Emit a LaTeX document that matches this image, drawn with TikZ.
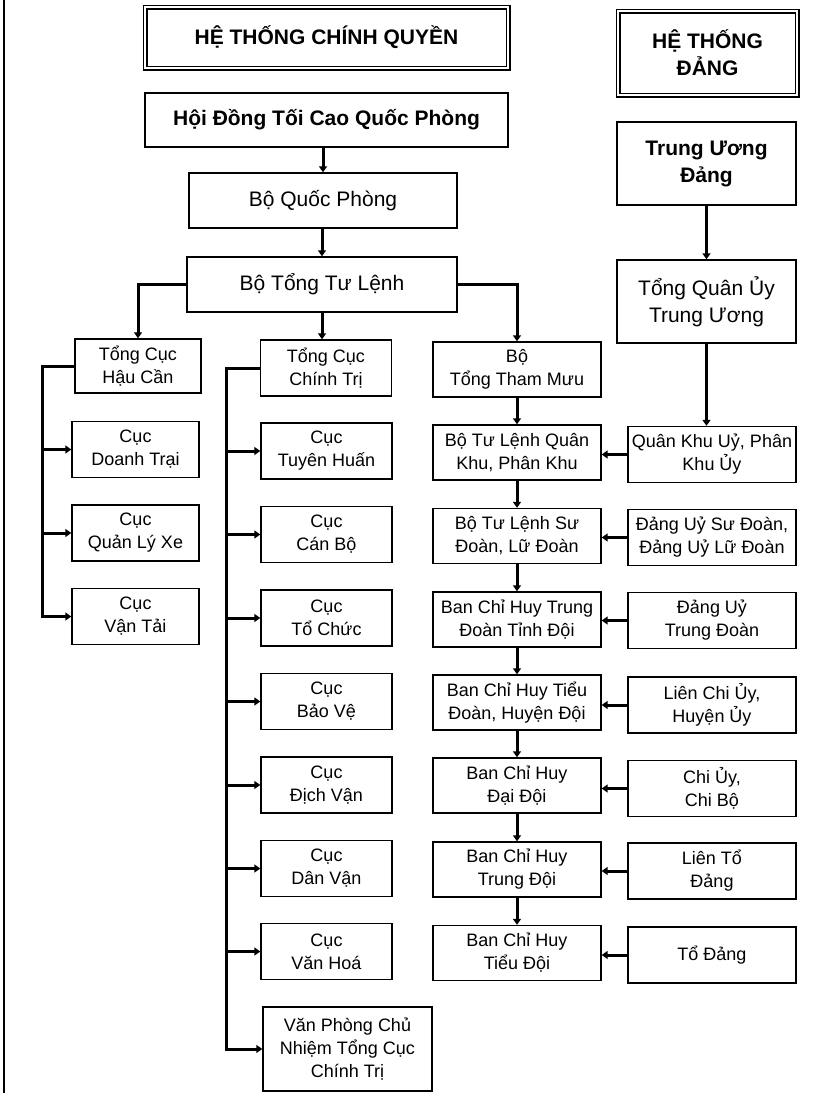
\documentclass[tikz,border=0pt]{standalone}
\usepackage{fontspec}
\setmainfont{Liberation Sans}
\usetikzlibrary{arrows.meta}

\tikzset{
  orgbox/.style={draw, line width=1.4pt, inner sep=0pt, align=center,
    font=\fontsize{18}{23}\selectfont, minimum height=56pt},
  bigbox/.style={orgbox, font=\fontsize{21}{27}\selectfont},
  boldbox/.style={orgbox, font=\bfseries\fontsize{21}{27}\selectfont},
  headbox/.style={draw, double, line width=1.2pt, double distance=2.6pt,
    inner sep=0pt, align=center, font=\bfseries\fontsize{21}{27}\selectfont},
  leftcol/.style={orgbox, minimum width=127pt},
  midcol/.style={orgbox, minimum width=131pt},
  cmdcol/.style={orgbox, minimum width=168pt, minimum height=55pt},
  partycol/.style={orgbox, minimum width=168pt},
  link/.style={line width=3pt},
  arr/.style={link, -{Triangle[length=6pt,width=8pt]}},
}

\begin{document}
\begin{tikzpicture}[x=1pt,y=-1pt]
      \useasboundingbox (0,0) rectangle (834,1093);
      \draw[line width=1.3pt] (4,0) -- (4,1093);
      % headings
      \node[headbox, minimum width=363pt, minimum height=61pt] (hcq) at (326.5,37.5) {HỆ THỐNG CHÍNH QUYỀN};
      \node[headbox, minimum width=179pt, minimum height=84pt] (hdg) at (707.5,53) {HỆ THỐNG\\ĐẢNG};
      % government top
      \node[boldbox, minimum width=363pt, minimum height=54pt] (hdqp) at (326.5,120) {Hội Đồng Tối Cao Quốc Phòng};
      \node[bigbox, minimum width=268pt, minimum height=55pt] (bqp) at (323,200.5) {Bộ Quốc Phòng};
      \node[bigbox, minimum width=270pt, minimum height=55pt] (btl) at (322,284.5) {Bộ Tổng Tư Lệnh};
      % party top
      \node[boldbox, minimum width=179pt, minimum height=83pt] (tud) at (706.5,163.5) {Trung Ương\\Đảng};
      \node[bigbox, minimum width=179pt, minimum height=83pt] (tqu) at (706.5,301.5) {Tổng Quân Ủy\\Trung Ương};
      % general departments
      \node[leftcol, minimum width=126pt, minimum height=54pt] (tchc) at (138,366) {Tổng Cục\\Hậu Cần};
      \node[midcol] (tcct) at (326,368) {Tổng Cục\\Chính Trị};
      \node[cmdcol] (btm) at (517,369.5) {Bộ\\Tổng Tham Mưu};
      % logistics departments
      \node[leftcol] (cdt) at (135.5,449.5) {Cục\\Doanh Trại};
      \node[leftcol] (cqlx) at (135.5,533) {Cục\\Quản Lý Xe};
      \node[leftcol] (cvt) at (135.5,616.5) {Cục\\Vận Tải};
      % political departments
      \node[midcol] (cth) at (326.5,451) {Cục\\Tuyên Huấn};
      \node[midcol] (ccb) at (326.5,534.5) {Cục\\Cán Bộ};
      \node[midcol] (ctc) at (326.5,618) {Cục\\Tổ Chức};
      \node[midcol] (cbv) at (326.5,701.5) {Cục\\Bảo Vệ};
      \node[midcol] (cdv) at (326.5,785) {Cục\\Địch Vận};
      \node[midcol] (cdanv) at (326.5,868.5) {Cục\\Dân Vận};
      \node[midcol] (cvh) at (326.5,951.5) {Cục\\Văn Hoá};
      \node[orgbox, minimum width=169pt, minimum height=84pt] (vpcn) at (347.5,1049) {Văn Phòng Chủ\\Nhiệm Tổng Cục\\Chính Trị};
      % command chain
      \node[cmdcol] (bqk) at (517,452.5) {Bộ Tư Lệnh Quân\\Khu, Phân Khu};
      \node[cmdcol] (bsd) at (517,536) {Bộ Tư Lệnh Sư\\Đoàn, Lữ Đoàn};
      \node[cmdcol] (bctd) at (517,619.5) {Ban Chỉ Huy Trung\\Đoàn Tỉnh Đội};
      \node[cmdcol] (bctdo) at (517,702.5) {Ban Chỉ Huy Tiểu\\Đoàn, Huyện Đội};
      \node[cmdcol] (bcdd) at (517,785.5) {Ban Chỉ Huy\\Đại Đội};
      \node[cmdcol] (bctrd) at (517,869.5) {Ban Chỉ Huy\\Trung Đội};
      \node[cmdcol] (bctid) at (517,953) {Ban Chỉ Huy\\Tiểu Đội};
      % party chain
      \node[partycol] (qku) at (712,454.5) {Quân Khu Uỷ, Phân\\Khu Ủy};
      \node[partycol] (dusd) at (712,537.5) {Đảng Uỷ Sư Đoàn,\\Đảng Uỷ Lữ Đoàn};
      \node[partycol] (dutd) at (712,620.5) {Đảng Uỷ\\Trung Đoàn};
      \node[partycol] (lcu) at (712,705) {Liên Chi Ủy,\\Huyện Ủy};
      \node[partycol] (cu) at (712,788.5) {Chi Ủy,\\Chi Bộ};
      \node[partycol] (ltd) at (712,871) {Liên Tổ\\Đảng};
      \node[partycol] (tdg) at (712,955) {Tổ Đảng};
      \coordinate (lspine) at (42,0);
      \coordinate (mspine) at (226,0);
      % government links
      \draw[arr] (hdqp.south -| bqp.north) -- (bqp.north);
      \draw[arr] (bqp.south -| btl.north) -- (btl.north);
      \draw[arr] (btl.south) -- (btl.south |- tcct.north);
      \draw[arr] (btl.west) -| (tchc.north);
      \draw[arr] (btl.east) -| (btm.north);
      % logistics spine
      \draw[arr] (tchc.west) -| (cvt.west -| lspine) -- (cvt.west);
      \draw[arr] (cdt.west -| lspine) -- (cdt.west);
      \draw[arr] (cqlx.west -| lspine) -- (cqlx.west);
      % political spine
      \draw[arr] (tcct.west) -| (vpcn.west -| mspine) -- (vpcn.west);
      \draw[arr] (cth.west -| mspine) -- (cth.west);
      \draw[arr] (ccb.west -| mspine) -- (ccb.west);
      \draw[arr] (ctc.west -| mspine) -- (ctc.west);
      \draw[arr] (cbv.west -| mspine) -- (cbv.west);
      \draw[arr] (cdv.west -| mspine) -- (cdv.west);
      \draw[arr] (cdanv.west -| mspine) -- (cdanv.west);
      \draw[arr] (cvh.west -| mspine) -- (cvh.west);
      % command chain links
      \draw[arr] (btm.south) -- (bqk.north);
      \draw[arr] (bqk.south) -- (bsd.north);
      \draw[arr] (bsd.south) -- (bctd.north);
      \draw[arr] (bctd.south) -- (bctdo.north);
      \draw[arr] (bctdo.south) -- (bcdd.north);
      \draw[arr] (bcdd.south) -- (bctrd.north);
      \draw[arr] (bctrd.south) -- (bctid.north);
      % party links
      \draw[arr] (tud.south) -- (tqu.north);
      \draw[arr] (tqu.south) -- (tqu.south |- qku.north);
      \draw[arr] (qku.west) -- (qku.west -| bqk.east);
      \draw[arr] (dusd.west) -- (dusd.west -| bsd.east);
      \draw[arr] (dutd.west) -- (dutd.west -| bctd.east);
      \draw[arr] (lcu.west) -- (lcu.west -| bctdo.east);
      \draw[arr] (cu.west) -- (cu.west -| bcdd.east);
      \draw[arr] (ltd.west) -- (ltd.west -| bctrd.east);
      \draw[arr] (tdg.west) -- (tdg.west -| bctid.east);
\end{tikzpicture}
\end{document}
